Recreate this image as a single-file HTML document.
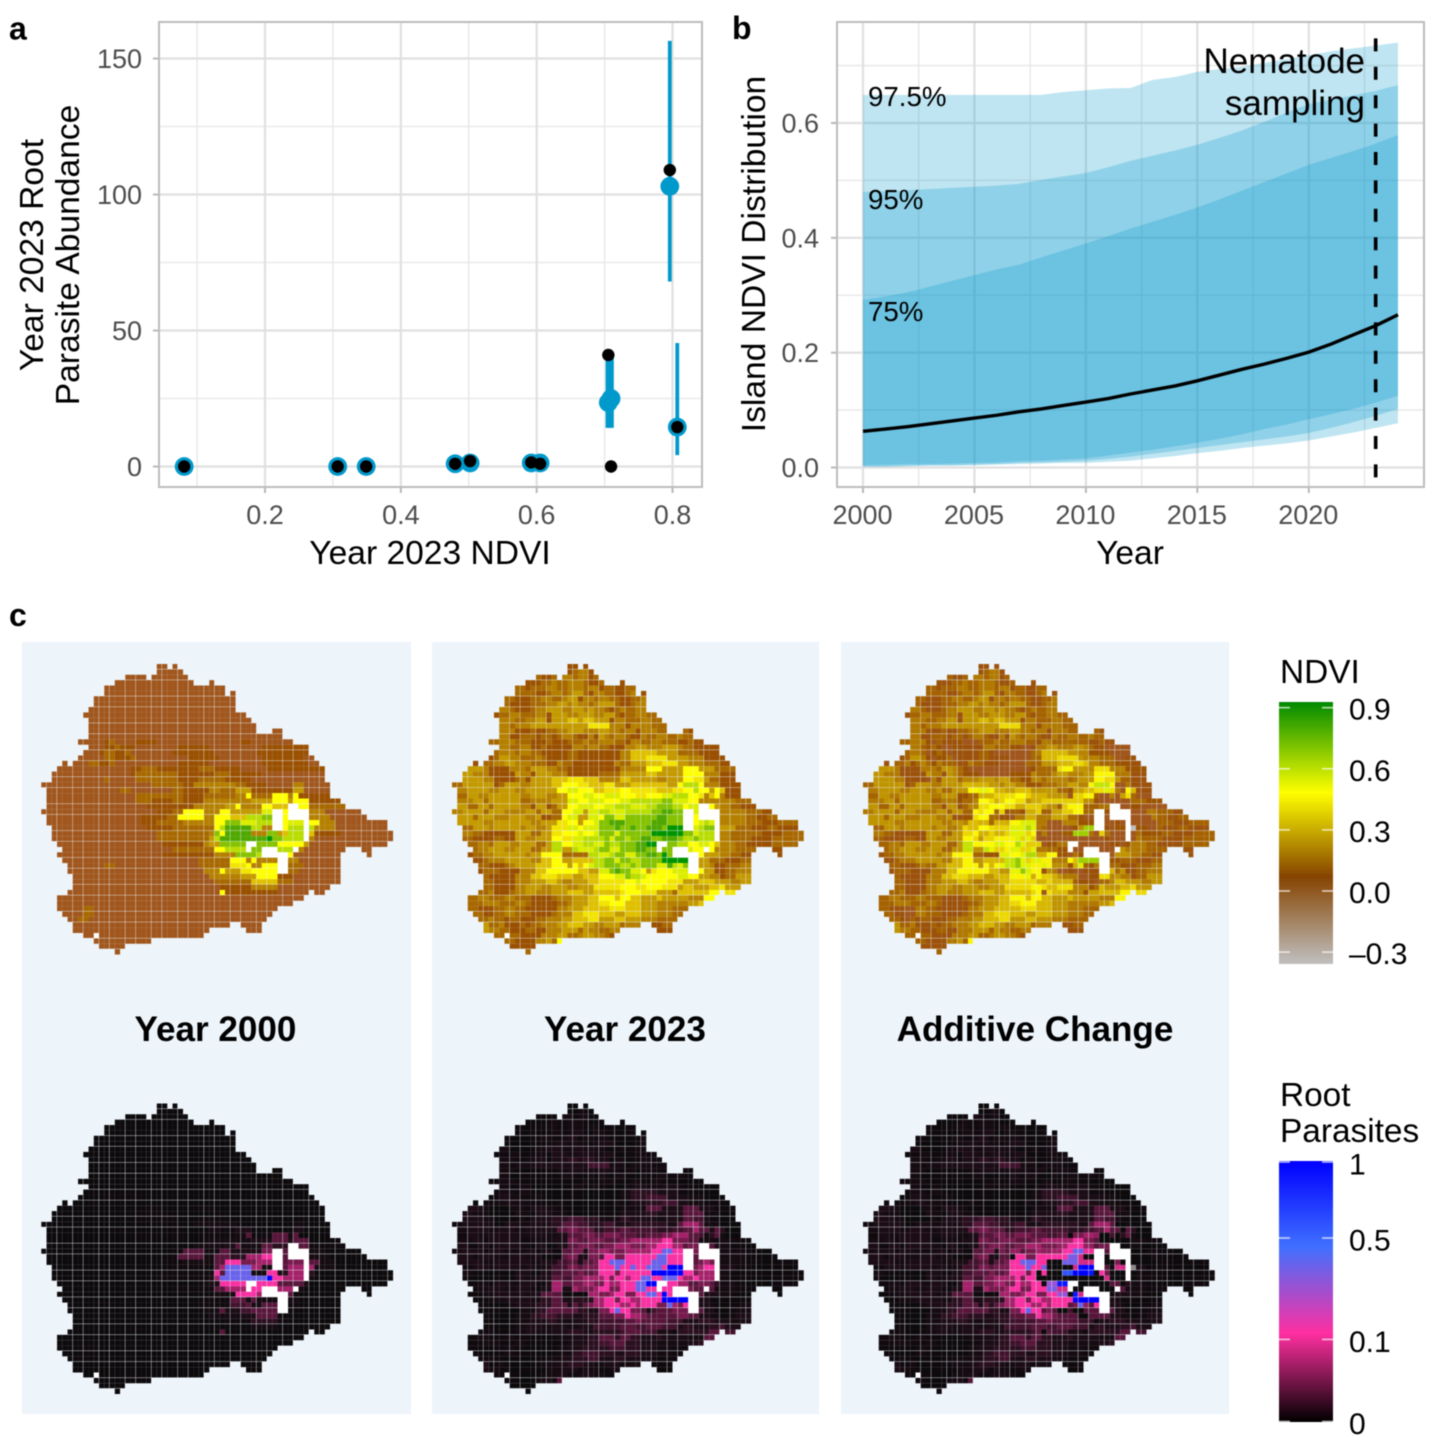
<!DOCTYPE html>
<html lang="en">
<head>
<meta charset="utf-8">
<title>NDVI and root parasite abundance</title>
<style>
html,body{margin:0;padding:0;background:#fff}
svg{display:block;font-family:"Liberation Sans",Arial,sans-serif;filter:blur(0.4px)}
.tick{font-size:27px;fill:#4d4d4d}
.axis{font-size:33.6px;fill:#000}
.tag{font-size:32px;font-weight:bold;fill:#000}
.pct{font-size:27.7px;fill:#000}
.title{font-size:35.1px;font-weight:bold;fill:#000;text-anchor:middle}
.leg{font-size:30px;fill:#000}
.legt{font-size:33.4px;fill:#000}
</style>
</head>
<body>
<svg id="fig" xmlns="http://www.w3.org/2000/svg" width="1441" height="1441" viewBox="0 0 1441 1441">
<defs>
<linearGradient id="ndviGrad" x1="0" y1="0" x2="0" y2="1">
<stop offset="0" stop-color="#008a00"/><stop offset="0.346" stop-color="#ffff00"/><stop offset="0.667" stop-color="#864400"/><stop offset="1" stop-color="#c0c0c0"/>
</linearGradient>
<linearGradient id="rootGrad" x1="0" y1="0" x2="0" y2="1">
<stop offset="0" stop-color="#0000ff"/><stop offset="0.328" stop-color="#4070ff"/><stop offset="0.66" stop-color="#ff2fa0"/><stop offset="1" stop-color="#000000"/>
</linearGradient>
</defs>
<rect width="1441" height="1441" fill="#fff"/>

<g id="panelA"></g>
<g id="panelB"></g>

<text class="tag" x="9" y="39.5">a</text>
<text class="tag" x="732" y="39">b</text>
<text class="tag" x="9" y="626">c</text>

<text class="axis" x="430" y="564" text-anchor="middle">Year 2023 NDVI</text>
<text class="axis" transform="translate(43,255) rotate(-90)" text-anchor="middle">Year 2023 Root</text>
<text class="axis" transform="translate(79,255) rotate(-90)" text-anchor="middle">Parasite Abundance</text>
<text class="axis" x="1130" y="564" text-anchor="middle">Year</text>
<text class="axis" transform="translate(765,254) rotate(-90)" text-anchor="middle">Island NDVI Distribution</text>

<rect x="22" y="642" width="389" height="772" fill="#edf4fa"/>
<rect x="432" y="642" width="387" height="772" fill="#edf4fa"/>
<rect x="841" y="642" width="388" height="772" fill="#edf4fa"/>
<g id="maps"></g>
<text class="title" x="215.5" y="1041">Year 2000</text>
<text class="title" x="625" y="1041">Year 2023</text>
<text class="title" x="1035" y="1041">Additive Change</text>

<text class="legt" x="1280" y="683">NDVI</text>
<rect x="1279" y="702" width="54" height="262" fill="url(#ndviGrad)"/>
<g id="ndviLegend"></g>
<text class="legt" x="1280" y="1106">Root</text>
<text class="legt" x="1280" y="1142">Parasites</text>
<rect x="1279" y="1161" width="54" height="261" fill="url(#rootGrad)"/>
<g id="rootLegend"></g>
</svg>

<script>
// ---------- Panel a data ----------
const aNdvi = [0.081, 0.307, 0.349, 0.48, 0.502, 0.592, 0.605, 0.7055, 0.7095, 0.796, 0.807];
const aObserved = [0, 0, 0, 1, 2, 1.5, 1, 41, 0, 109, 14.5];
const aPredicted = [0, 0, 0, 1, 1.3, 1.3, 1.3, 23.5, 25, 103, 14.5];
const aLower = [0, 0, 0, 0.5, 0.7, 0.6, 0.6, 14.2, 14.2, 68, 4.2];
const aUpper = [0.5, 0.5, 0.5, 2, 3.5, 3, 2.5, 41, 40, 156.5, 45.4];
const aXTicks = [0.2, 0.4, 0.6, 0.8];
const aXMinor = [0.1, 0.3, 0.5, 0.7];
const aYTicks = [0, 50, 100, 150];
const aYMinor = [25, 75, 125];

// ---------- Panel b data ----------
const bYears = [2000,2001,2002,2003,2004,2005,2006,2007,2008,2009,2010,2011,2012,2013,2014,2015,2016,2017,2018,2019,2020,2021,2022,2023,2024];
const bMedian = [.063,.067,.071,.076,.081,.086,.091,.097,.102,.108,.114,.120,.128,.135,.142,.151,.161,.171,.180,.190,.201,.215,.231,.247,.266];
const bUpper975 = [.649,.649,.649,.649,.649,.649,.649,.649,.649,.654,.657,.660,.661,.675,.680,.689,.694,.698,.705,.711,.718,.725,.730,.735,.740];
const bLower975 = [.001,.001,.002,.003,.003,.004,.005,.006,.007,.008,.008,.010,.012,.016,.020,.025,.029,.034,.038,.042,.047,.054,.061,.069,.077];
const bUpper95 = [.480,.481,.483,.485,.487,.489,.491,.494,.501,.507,.513,.523,.534,.543,.552,.562,.574,.587,.602,.618,.633,.641,.648,.656,.666];
const bLower95 = [.002,.002,.003,.004,.004,.005,.006,.008,.009,.010,.012,.015,.019,.024,.029,.034,.039,.044,.049,.054,.060,.069,.079,.090,.102];
const bUpper75 = [.292,.298,.305,.315,.325,.335,.345,.353,.366,.378,.390,.403,.416,.428,.440,.453,.467,.482,.497,.512,.527,.539,.551,.564,.579];
const bLower75 = [.004,.005,.006,.006,.007,.008,.009,.011,.012,.014,.016,.021,.026,.031,.037,.043,.050,.058,.067,.075,.084,.093,.102,.113,.125];
const bXTicks = [2000, 2005, 2010, 2015, 2020];
const bXMinor = [2002.5, 2007.5, 2012.5, 2017.5, 2022.5];
const bYTicks = [0, 0.2, 0.4, 0.6];
const bYMinor = [0.1, 0.3, 0.5, 0.7];
const bSamplingYear = [2023];

// ---------- Map data: run-length rows, one letter per NDVI level, w = no data, . = outside island ----------
const ndviLevels = {a:.02,b:.07,c:.15,d:.22,e:.30,f:.38,g:.44,h:.50,i:.56,j:.62,k:.70,l:.78,m:.88};
const ndvi2000Rows = [
"22.2a1.1a","22.5a","16.4a1.7a","14.15a3.1a","12.23a","12.23a1.1a","10.27a","10.27a","9.28a","8.31a","9.31a","9.32a","9.32a3.2a","9.37a",
"7.5a1b1c4a4b16a2b8a",
"9.3a2b1c3b8a6b10a9b",
"8.3a1b2c2b1c8a8b8a10b",
"7.5a2c3b1c10a6b8a8b2a",
"4.1a1.3a2c2b1c12a6b10a9b2a",
"3.14a2b3c8b3c5b5a11b",
"2.15a1b6c2c7b3c6b12a",
"2.10a1c5a8c4b5c5b14a",
"21a6c2b8d2c4b5a2d5a",
"1.14a2c8a2c5b2d3c3e8b2e5a",
"1.17a9c4b6c2d1h4c3h1d1h1b5b",
"1.17a3c4b2c4b9d4e3h1e3h6b",
"1.19a9b6d2e1h4d2h3f2w2h7c",
"22a3b2c4h3d2h6e2i2w1h4w3d7a",
"1.18a5b2c5h2d3h3f3j2k2w1h4w4d7a",
"1.18a3b5c6d2h3k3i3j2w1h3i1w2h3d10a",
"2.18a5b8c1h1j5l2j2d2w1h3j1w1j4d10a",
"2.20a10c1d1k1h5l3d2k1e1f3j1w1f5b10a",
"2.20a10c1e1j9l1m2k4j1w1d15a",
"3.20a8b1d2e5k2w4k5h1e15a",
"4.21a8c2h4j1w2k3w3j1w1d8a3.2a",
"3.20a10b4d4k1j5w1h9a5.1a",
"4.26a6c3h1d1h4d2w2d8a",
"5.7a2c16a6c3g1h2d3h2w3c7a",
"5.26a3d1h3e2g5h2w2c8a",
"6.26a6d3e4h3b9a",
"6.27a7c5f3c9a",
"6.28a6b5d10a",
"5.29a1h10b6a1.2a",
"3.47a","3.45a","3.5a2c35a","4.4a2c34a","5.2a2c34a","6.30a2.4a","6.26a7.3a","8.2a1w20a","10.11a","11.5a","14.1a"
];
const ndvi2023Rows = [
"22.2b1.1b","22.1b1c2d1b","16.1c2b1c1.2d1c2d1b1c","14.3b2c1d2c3d1c2b1c3.1b",
"12.2c1b3c2d2c3d1c2d1b2c2b2c",
"12.4c2b1c2d1c1d2e1c1b2d2c2b1c1d1.1b",
"10.2c3b2c2d2c1d2e1b2d1c2d2c2b2c1d",
"10.1c4b3c2d2e1d1e2d1c1d3e1c2b1c2d",
"9.2d1c3b1c2d3e2d2e1d1e2d1c1b1c1d2c2d",
"8.1b2c2d3c2d1b3e2d3e2d2e1c1b2c2d2c",
"9.3d2c2d2e1b3e2f1e2f3e1b2d3c2d2c",
"9.2d1c3d11e4g3d1b4d3c",
"9.3d3b1c2b2c2d3e3d2e2d1c2d1b3d2c3.1c1b",
"9.2d2b3c1b2c1b1c2d1c2b1d1b1e1d1c2d1c2b1d2c2d2c1d2c",
"7.2c3d3c3b1c3b3c1d2c3d2c1b2d2c2d3c2b1c2b",
"9.2d2c2d2b1c5b2d1c2d2c3b2d2e3d3e1d2c5b",
"8.1c3d1c2d2c5b2c8b2d5f4e4c4b",
"7.1b1c2e2d3c1d1c4b2c8b2d3f4g4e3d4b",
"4.1b1.2c2d2e3d3c2b1d2c8b1d2c3e3f3g2e3d3c2b",
"3.3e1d4b3d1c3e2d2c10b5d3h4e3h3e4c",
"2.2e3d5b1e2d1b3e3d6b4c5e2f2e3e4h3d3b",
"2.4e2d4b1c1d1b4e3f3g3f4d2f2e3e2d3e2h2g1e2c3b",
"2c6e1b1c3e2d4e2f3h2g2f1f2g3e4f3f2e1h3j1h1d2d4b",
"1.2d4e2d3e2d3e3e2h2i3h2f3g2h5g3f2g2h1j2h1e1h1f3b",
"1.2c2e2d2e4e2d3e2d2e3h2i2h3i3h2g3h2i3j2h1g1d1f1h1d3b",
"1.3d2e1c2e4e2c2d2d3e2i2h3i3h2i3j3j2k3i2h4d3d3c",
"1.2e2c2e1c2e3e2d1b2e1b1c2e2h3i2h2i3j3i2j3k2j1h2i2w1h1e2d2c3b",
"2d4e1c3e2d2d2e1c2e2c2h2i1e2i2j3i3j2j2k2l2k2w1i4w5d3c2b",
"1.3e1c3e3d3e2d1e2b2c1h2i2e2i1h2k2i3k3k2l3k2w1h4w5d2c2b2c",
"1.5e2d3e4e2d3e2g2h1e2h1i2k3l2k3k3l3k2w1h1i1j1i1w5d3c3b4c",
"2.2c3e1d2e3e1d2e2d1e3g2i1h2i1i1k2k1l2k1l2k3l1k3m2w1i1j2k1w3e2c1c3b2c4b",
"2.2d2c6b3e2c2e2g3h1i2h1i3k1i3k3k6m2k1i3j1w2d4c2c4b4c",
"2.2c2b2b2c2b2e2d3e2h2g2i2j2j1k1i2k1j1k1k2l2k3l1k2j1k3j1w2d4c4b6c",
"3.2c2d1c3e2d3e2c1e2j2h2i2j2i1k2j3k2l2m2w2k2j2h2i1h1f3d2c5b5c",
"4.1c2d3e2d3e2c2e2j2e1j3i1j2k2i3k2l2k1w2k3w1i2h1w1h4d4c3.2b",
"3.1b2c2d3e3e1d2e2h2h5c2j2i1j2k2i2k2l1k1m1k5w1h3e2d2c2b5.1b",
"4.2b1c3d2e3e2d2f2h2e2f2f2j2k1i2k2j3k1k5m2w2e3c3b2c",
"5.2c3b1c1d1e3e3f3h1e1h1f1h1i2j3k2j1k1j3k2i1l1j1i1k2w2e1d2b3c2d",
"5.1b3c4b1d2d2f3h3h2f2e2i1k1l2k2i1h1e1g3h3i2w1h2e2b2c3d",
"6.1c5b3d2f3g3f2e3f3h2i1k2j1i2h4h2i2h2e2d1b2c3e",
"6.2c4b3d3e2f1e2d3e2f3g2g2h1i3h2h3g3e3f3e2d2e",
"6.2c4b2d3e2d3e2d3e3g2g3h2g1h2h3g1e2f3e2f1g3e",
"5.2c1d3b1c2d2e3d3e3f2e3f2f1g3h2g1g3e1c3f3f2h1.2g",
"3.2c2d3c2d3c4b1c3d3e2f3h1f2h2f3e1f2e3e3d2h",
"3.3c3d3c2d1c5b2c1d3e2f2g3h3f3e3d3d2e1f",
"3.2c3b2c2d2c6b2d3e3f2f3g3f3e3d3c",
"4.2c2b2c2d3c4b1c3d2f3g3f2e3f3e3d2c",
"5.2c1d2c1b2c3b2c3d2e3f2g3e2f3e3d4c",
"6.1e2c1d3b1c1b2c3d2e3f2e2d3e1c3d2.2b2c",
"6.1e2d2c3b2c2b3d3e1c1e2d2c2d7.3b",
"8.2c1w2c4b3d2e2c1d2e2d1c1b",
"10.2c4b2d1e1c1h","11.5b","14.1c"
];

// ---------- Legend data ----------
const ndviLegendLabels = ["0.9", "0.6", "0.3", "0.0", "\u20130.3"];
const ndviLegendValues = [0.9, 0.6, 0.3, 0.0, -0.3];
const rootLegendLabels = ["1", "0.5", "0.1", "0"];
const rootLegendValues = [1, 0.5, 0.1, 0];

const NS = "http://www.w3.org/2000/svg";
function make(parent, tag, attrs, text) {
  const el = document.createElementNS(NS, tag);
  for (const k in attrs) el.setAttribute(k, attrs[k]);
  if (text !== undefined) el.textContent = text;
  parent.appendChild(el);
  return el;
}

// ---------- Panel a ----------
(function () {
  const g = document.getElementById("panelA");
  const x = v => 265 + (v - 0.2) * 679.2;
  const y = v => 466.5 - v * 2.72;
  const L = 159, R = 702, T = 22, B = 487;
  aXMinor.forEach(v => {
    const el = make(g, "line", {x1:x(v), x2:x(v), y1:T, y2:B, stroke:"#e6e6e6", "stroke-width":1.3});
    
    
  });
  aYMinor.forEach(v => {
    const el = make(g, "line", {x1:L, x2:R, y1:y(v), y2:y(v), stroke:"#e6e6e6", "stroke-width":1.3});
    
    
  });
  aXTicks.forEach(v => {
    const el = make(g, "line", {x1:x(v), x2:x(v), y1:T, y2:B, stroke:"#e0e0e0", "stroke-width":2.2});
    
    
    const t = make(g, "line", {x1:x(v), x2:x(v), y1:B, y2:B + 6, stroke:"#b8b8b8", "stroke-width":2});
    
    
    const l = make(g, "text", {x:x(v), y:524, "text-anchor":"middle", class:"tick"}, v.toFixed(1));
    
    
  });
  aYTicks.forEach(v => {
    const el = make(g, "line", {x1:L, x2:R, y1:y(v), y2:y(v), stroke:"#e0e0e0", "stroke-width":2.2});
    
    
    const t = make(g, "line", {x1:L - 6, x2:L, y1:y(v), y2:y(v), stroke:"#b8b8b8", "stroke-width":2});
    
    
    const l = make(g, "text", {x:142, y:y(v) + 9.5, "text-anchor":"end", class:"tick"}, String(v));
    
    
  });
  aNdvi.forEach((v, i) => {
    const wide = i === 7 || i === 8;
    const el = make(g, "line", {x1:x(v), x2:x(v), y1:y(aLower[i]), y2:y(aUpper[i]), stroke:"#0099cc", "stroke-width":wide ? 5.5 : 3.8});
    
    
  });
  aNdvi.forEach((v, i) => {
    const el = make(g, "circle", {cx:x(v), cy:y(aPredicted[i]), r:9.4, fill:"#0099cc"});
    
    
  });
  aNdvi.forEach((v, i) => {
    const el = make(g, "circle", {cx:x(v), cy:y(aObserved[i]), r:6.2, fill:"#000"});
    
    
  });
  const b = make(g, "rect", {x:L, y:T, width:R - L, height:B - T, fill:"none", stroke:"#bdbdbd", "stroke-width":2});
  
  
})();

// ---------- Panel b ----------
(function () {
  const g = document.getElementById("panelB");
  const x = v => 863 + (v - 2000) * 22.29;
  const y = v => 467.5 - v * 574.2;
  const L = 837, R = 1424, T = 22, B = 487;
  bXMinor.forEach(v => {
    const el = make(g, "line", {x1:x(v), x2:x(v), y1:T, y2:B, stroke:"#e6e6e6", "stroke-width":1.3});
    
    
  });
  bYMinor.forEach(v => {
    const el = make(g, "line", {x1:L, x2:R, y1:y(v), y2:y(v), stroke:"#e6e6e6", "stroke-width":1.3});
    
    
  });
  bXTicks.forEach(v => {
    const el = make(g, "line", {x1:x(v), x2:x(v), y1:T, y2:B, stroke:"#e0e0e0", "stroke-width":2.2});
    
    
    const t = make(g, "line", {x1:x(v), x2:x(v), y1:B, y2:B + 6, stroke:"#b8b8b8", "stroke-width":2});
    
    
    const l = make(g, "text", {x:x(v) - 0.5, y:524, "text-anchor":"middle", class:"tick"}, String(v));
    
    
  });
  bYTicks.forEach(v => {
    const el = make(g, "line", {x1:L, x2:R, y1:y(v), y2:y(v), stroke:"#e0e0e0", "stroke-width":2.2});
    
    
    const t = make(g, "line", {x1:L - 6, x2:L, y1:y(v), y2:y(v), stroke:"#b8b8b8", "stroke-width":2});
    
    
    const l = make(g, "text", {x:819, y:y(v) + 9.5, "text-anchor":"end", class:"tick"}, v.toFixed(1));
    
    
  });
  function ribbon(upper, lower) {
    const pts = [];
    bYears.forEach((yr, i) => pts.push(x(yr).toFixed(2) + "," + y(upper[i]).toFixed(2)));
    for (let i = bYears.length - 1; i >= 0; i--) pts.push(x(bYears[i]).toFixed(2) + "," + y(lower[i]).toFixed(2));
    return make(g, "polygon", {points:pts.join(" "), fill:"#0099cc", "fill-opacity":0.25});
  }
  const r1 = ribbon(bUpper975, bLower975);
  
  
  const r2 = ribbon(bUpper95, bLower95);
  
  
  const r3 = ribbon(bUpper75, bLower75);
  
  
  const med = make(g, "polyline", {
    points: bYears.map((yr, i) => x(yr).toFixed(2) + "," + y(bMedian[i]).toFixed(2)).join(" "),
    fill:"none", stroke:"#000", "stroke-width":3.4
  });
  
  
  bSamplingYear.forEach(v => {
    const el = make(g, "line", {x1:x(v), x2:x(v), y1:T, y2:B, stroke:"#000", "stroke-width":3.6, "stroke-dasharray":"13 15.4", "stroke-dashoffset":12});
    
    
  });
  const b = make(g, "rect", {x:L, y:T, width:R - L, height:B - T, fill:"none", stroke:"#bdbdbd", "stroke-width":2});
  
  

  const p1 = make(g, "text", {x:868, y:106, class:"pct"}, "97.5%");
  
  
  const p2 = make(g, "text", {x:868, y:209, class:"pct"}, "95%");
  
  
  const p3 = make(g, "text", {x:868, y:321, class:"pct"}, "75%");
  
  
  const n1 = make(g, "text", {x:1365, y:73, "text-anchor":"end", "font-size":35, fill:"#000"}, "Nematode");
  
  
  const n2 = make(g, "text", {x:1365, y:115, "text-anchor":"end", "font-size":35, fill:"#000"}, "sampling");
  
  
})();

// ---------- Maps ----------
(function () {
  const g = document.getElementById("maps");
  const cw = 5.25, ch = 5.38;
  function decode(rows) {
    return rows.map(r => {
      let s = "";
      r.replace(/(\d*)([a-mw.])/g, (m, n, c) => { s += c.repeat(n ? +n : 1); return m; });
      return s;
    });
  }
  const g00 = decode(ndvi2000Rows);
  const g23 = decode(ndvi2023Rows);

  const ndviStops = [[.02,[160,86,28]],[.07,[154,80,0]],[.15,[168,104,0]],[.22,[181,128,0]],[.30,[196,154,0]],[.38,[223,192,0]],[.44,[242,228,0]],[.50,[255,255,0]],[.56,[220,238,0]],[.62,[185,221,0]],[.70,[133,194,0]],[.78,[79,168,0]],[.88,[0,148,0]]];
  const rootStops = [[0,[13,10,12]],[.318,[255,47,160]],[.705,[64,112,255]],[1,[0,0,255]]];
  const rootCurve = [[.10,0],[.22,.01],[.30,.02],[.38,.04],[.44,.07],[.50,.10],[.56,.14],[.62,.20],[.70,.33],[.78,.62],[.88,1]];

  function lerpColor(stops, v) {
    if (v <= stops[0][0]) return "rgb(" + stops[0][1].join(",") + ")";
    for (let i = 1; i < stops.length; i++) {
      if (v <= stops[i][0]) {
        const a = stops[i - 1], b = stops[i], f = (v - a[0]) / (b[0] - a[0]);
        return "rgb(" + a[1].map((c, k) => Math.round(c + (b[1][k] - c) * f)).join(",") + ")";
      }
    }
    return "rgb(" + stops[stops.length - 1][1].join(",") + ")";
  }
  function rootT(v) {
    if (v <= rootCurve[0][0]) return 0;
    for (let i = 1; i < rootCurve.length; i++) {
      if (v <= rootCurve[i][0]) {
        const a = rootCurve[i - 1], b = rootCurve[i];
        return a[1] + (b[1] - a[1]) * (v - a[0]) / (b[0] - a[0]);
      }
    }
    return 1;
  }
  const rootP = v => { const t = rootT(v); return t * t; };
  // thin raster seams between some cell columns and rows
  const seamW = c => ((c * 3) % 5 < 2 ? cw - 0.42 : cw);
  const seamH = r => ((r * 3) % 5 < 2 ? ch - 0.42 : ch);

  const xs = [41.3, 452, 863];
  const ysTop = 664, ysBottom = 1103.5;
  const rows = Math.max(g00.length, g23.length);

  for (let r = 0; r < rows; r++) {
    const a = g00[r] || "", b = g23[r] || "";
    const cols = Math.max(a.length, b.length);
    for (let c = 0; c < cols; c++) {
      const ca = a[c] || ".", cb = b[c] || ".";
      const missing = ca === "w" || cb === "w";
      const va = ndviLevels[ca], vb = ndviLevels[cb];
      for (let p = 0; p < 3; p++) {
        let top, bot;
        if (missing) {
          top = bot = "#fff";
        } else if (p === 0) {
          if (ca === ".") continue;
          top = lerpColor(ndviStops, va);
          bot = lerpColor(rootStops, rootT(va));
        } else if (p === 1) {
          if (cb === ".") continue;
          top = lerpColor(ndviStops, vb);
          bot = lerpColor(rootStops, rootT(vb));
        } else {
          if (ca === "." || cb === ".") continue;
          const d = vb - va;
          if (d < -0.3) {
            top = "#bdbdbd";
            bot = "#8a8a8a";
          } else {
            top = lerpColor(ndviStops, Math.max(d, 0.02));
            bot = lerpColor(rootStops, Math.sqrt(Math.max(0, rootP(vb) - rootP(va))));
          }
        }
        const px = (xs[p] + c * cw).toFixed(2);
        const wd = missing ? cw : seamW(c);
        const hd = missing ? ch : seamH(r);
        const t = make(g, "rect", {x:px, y:(ysTop + r * ch).toFixed(2), width:wd, height:hd, fill:top});
        
        
        const u = make(g, "rect", {x:px, y:(ysBottom + r * ch).toFixed(2), width:wd, height:hd, fill:bot});
        
        
      }
    }
  }
})();

// ---------- Legends ----------
(function () {
  const a = document.getElementById("ndviLegend");
  const yN = v => 891 - v * 203.7;
  ndviLegendValues.forEach((v, i) => {
    const t1 = make(a, "line", {x1:1279, x2:1290, y1:yN(v), y2:yN(v), stroke:"#fff", "stroke-opacity":.7, "stroke-width":1.6});
    
    
    const t2 = make(a, "line", {x1:1322, x2:1333, y1:yN(v), y2:yN(v), stroke:"#fff", "stroke-opacity":.7, "stroke-width":1.6});
    
    
    const l = make(a, "text", {x:1349, y:yN(v) + 12, class:"leg"}, ndviLegendLabels[i]);
    
    
  });
  const b = document.getElementById("rootLegend");
  const yR = v => 1421.5 - Math.sqrt(v) * 259.5;
  rootLegendValues.forEach((v, i) => {
    const t1 = make(b, "line", {x1:1279, x2:1290, y1:yR(v), y2:yR(v), stroke:"#fff", "stroke-opacity":.7, "stroke-width":1.6});
    
    
    const t2 = make(b, "line", {x1:1322, x2:1333, y1:yR(v), y2:yR(v), stroke:"#fff", "stroke-opacity":.7, "stroke-width":1.6});
    
    
    const l = make(b, "text", {x:1349, y:yR(v) + 12.5, class:"leg"}, rootLegendLabels[i]);
    
    
  });
})();
</script>
</body>
</html>
